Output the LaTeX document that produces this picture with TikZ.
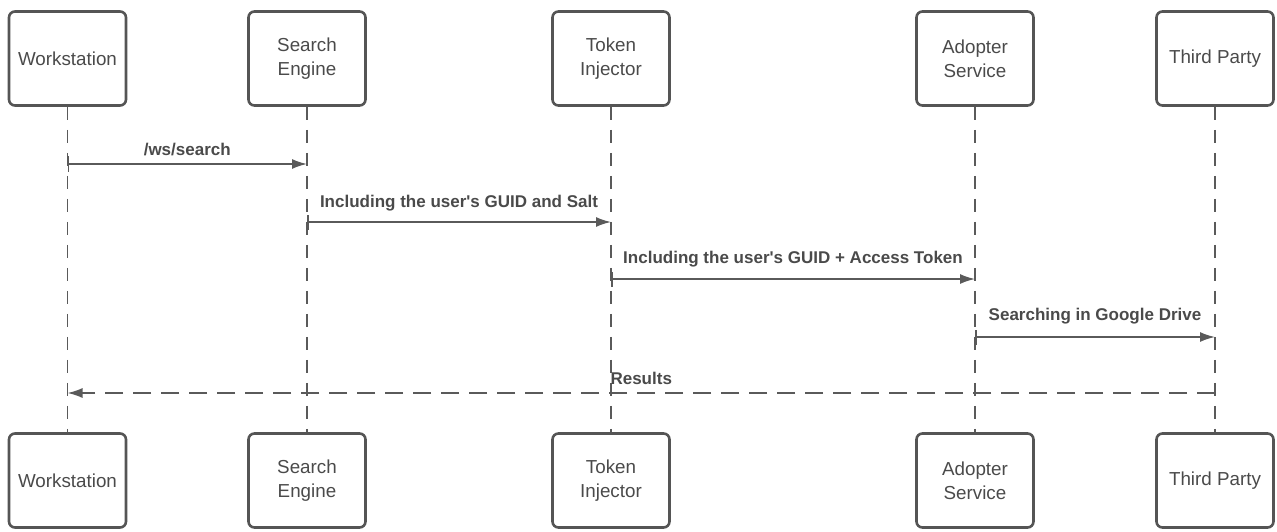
\documentclass[tikz,border=0pt]{standalone}
\usepackage{fontspec}
\setmainfont{Liberation Sans}
\usetikzlibrary{arrows.meta}
\definecolor{boxline}{HTML}{555555}
\definecolor{lineg}{HTML}{5A5A5A}
\definecolor{txt}{HTML}{4A4A4A}
\tikzset{
  actor/.style={draw=boxline, line width=2.6pt, rounded corners=6pt, minimum width=117pt, minimum height=94pt, inner sep=0pt, align=center, text=txt, font=\fontsize{18.8}{24}\selectfont},
  life/.style={draw=lineg, line width=1.6pt, dash pattern=on 13pt off 10pt},
  msg/.style={draw=lineg, line width=1.6pt, {Bar[width=15pt,line width=1.6pt]}-{Latex[length=15pt,width=10pt]}},
  ret/.style={draw=lineg, line width=1.6pt, dash pattern=on 18pt off 10pt, -{Latex[length=15pt,width=10pt]}},
  lbl/.style={text=txt, font=\bfseries\fontsize{17}{19}\selectfont, inner sep=0pt}
}
\begin{document}
\begin{tikzpicture}[x=1pt,y=-1pt]
\useasboundingbox (0,0) rectangle (1277,532);
% top actors
\node[actor] (w1) at (67.5,58.5) {Workstation};
\node[actor] (s1) at (307,58.5) {Search\\Engine};
\node[actor] (t1) at (611,58.5) {Token\\Injector};
\node[actor] (a1) at (975,58.5) {Adopter\\Service};
\node[actor] (p1) at (1215,58.5) {Third Party};
% bottom actors
\node[actor] (w2) at (67.5,480.5) {Workstation};
\node[actor] (s2) at (307,480.5) {Search\\Engine};
\node[actor] (t2) at (611,480.5) {Token\\Injector};
\node[actor] (a2) at (975,480.5) {Adopter\\Service};
\node[actor] (p2) at (1215,480.5) {Third Party};
% lifelines
\foreach \n in {w,s,t,a,p} \draw[life] (\n1.south) -- (\n2.north);
% message rows
\coordinate (r1) at (0,164);
\coordinate (r2) at (0,222);
\coordinate (r3) at (0,279);
\coordinate (r4) at (0,337);
\coordinate (r5) at (0,393);
\draw[msg] (w1 |- r1) -- (s1 |- r1) node[lbl, midway, above=7pt] {/ws/search};
\draw[msg] (s1 |- r2) -- (t1 |- r2) node[lbl, midway, above=10pt] {Including the user\textquotesingle s GUID and Salt};
\draw[msg] (t1 |- r3) -- (a1 |- r3) node[lbl, midway, above=11pt] {Including the user\textquotesingle s GUID + Access Token};
\draw[msg] (a1 |- r4) -- (p1 |- r4) node[lbl, midway, above=12pt] {Searching in Google Drive};
\draw[ret] (p1 |- r5) -- (w1 |- r5) node[lbl, midway, above=8pt] {Results};
\end{tikzpicture}
\end{document}
